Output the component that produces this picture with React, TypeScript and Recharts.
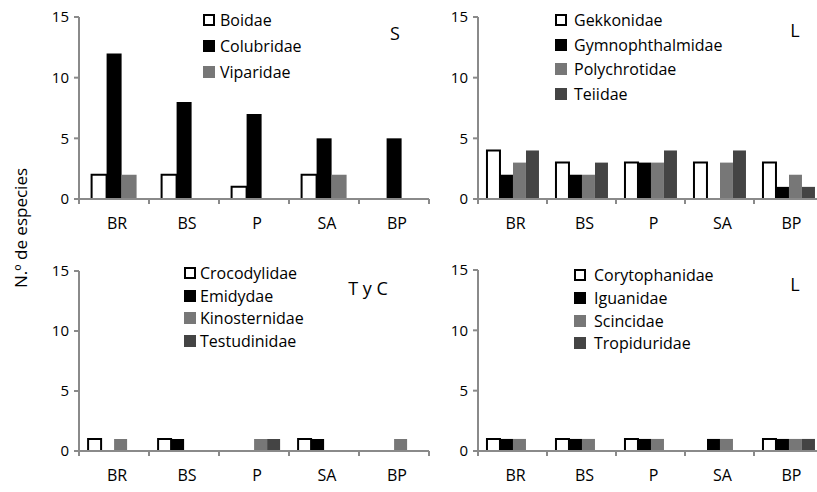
import React from 'react';
import { BarChart, Bar, XAxis, YAxis } from 'recharts';

// sites
const CATEGORIES = ['BR', 'BS', 'P', 'SA', 'BP'];
const Y_TICKS = [0, 5, 10, 15];

// S (serpientes)
const BOIDAE = [2, 2, 1, 2, 0];
const COLUBRIDAE = [12, 8, 7, 5, 5];
const VIPARIDAE = [2, 0, 0, 2, 0];

// L (lagartos, arriba)
const GEKKONIDAE = [4, 3, 3, 3, 3];
const GYMNOPHTHALMIDAE = [2, 2, 3, 0, 1];
const POLYCHROTIDAE = [3, 2, 3, 3, 2];
const TEIIDAE = [4, 3, 4, 4, 1];

// T y C
const CROCODYLIDAE = [1, 1, 0, 1, 0];
const EMIDYDAE = [0, 1, 0, 1, 0];
const KINOSTERNIDAE = [1, 0, 1, 0, 1];
const TESTUDINIDAE = [0, 0, 1, 0, 0];

// L (lagartos, abajo)
const CORYTOPHANIDAE = [1, 1, 1, 0, 1];
const IGUANIDAE = [1, 1, 1, 1, 1];
const SCINCIDAE = [1, 1, 1, 1, 1];
const TROPIDURIDAE = [0, 0, 0, 0, 1];

const FONT = '"Open Sans", sans-serif';
const AXIS = '#8a8a8a';

const STYLES = [
  { fill: '#ffffff', stroke: '#000000' },
  { fill: '#000000', stroke: 'none' },
  { fill: '#777777', stroke: 'none' },
  { fill: '#444444', stroke: 'none' },
];

type Series = { name: string; values: number[] };

function toRows(series: Series[]) {
  return CATEGORIES.map((c, i) => {
    const row: Record<string, any> = { cat: c };
    series.forEach((s) => (row[s.name] = s.values[i]));
    return row;
  });
}

function CatTick(props: any) {
  const { x, y, payload, index, step } = props;
  const last = index === CATEGORIES.length - 1;
  return (
    <g>
      <line x1={x - step / 2} x2={x - step / 2} y1={y} y2={y + 5} stroke={AXIS} strokeWidth={2} />
      {last && <line x1={x + step / 2} x2={x + step / 2} y1={y} y2={y + 5} stroke={AXIS} strokeWidth={2} />}
      <text x={x + 3} y={y + 24} textAnchor="middle" dominantBaseline="central" fontSize={16} fontFamily={FONT} fill="#000">
        {payload.value}
      </text>
    </g>
  );
}

interface PanelProps {
  series: Series[];
  left: number;
  top: number;
  yWidth: number;
  marginTop: number;
  marginRight: number;
  marginBottom: number;
  step: number;
  gap: string;
  legendLeft: number;
  legendTop: number;
  rowH: number;
  textGap: number;
  label: string;
  labelX: number;
  labelY: number;
}

function Panel(p: PanelProps) {
  const rows = toRows(p.series);
  return (
    <div style={{ position: 'absolute', left: p.left, top: p.top, width: 440, height: 240 }}>
      <BarChart
        width={440}
        height={240}
        data={rows}
        barGap={0}
        barCategoryGap={p.gap}
        margin={{ top: p.marginTop, right: p.marginRight, bottom: p.marginBottom, left: 0 }}
      >
        <XAxis
          dataKey="cat"
          height={30}
          axisLine={{ stroke: AXIS, strokeWidth: 2 }}
          tickLine={false}
          tickSize={0}
          tickMargin={0}
          interval={0}
          tick={(t: any) => <CatTick {...t} step={p.step} />}
        />
        <YAxis
          width={p.yWidth}
          domain={[0, 15]}
          ticks={Y_TICKS}
          interval={0}
          axisLine={{ stroke: AXIS, strokeWidth: 2 }}
          tickLine={{ stroke: AXIS, strokeWidth: 2 }}
          tickSize={5}
          tickMargin={5}
          tick={{ fill: '#000', fontSize: 15, fontFamily: FONT }}
        />
        {p.series.map((s, i) => (
          <Bar
            key={s.name}
            dataKey={s.name}
            fill={STYLES[i].fill}
            stroke={STYLES[i].stroke}
            strokeWidth={i === 0 ? 2 : 0}
            isAnimationActive={false}
          />
        ))}
      </BarChart>
      <div
        style={{
          position: 'absolute',
          left: p.legendLeft,
          top: p.legendTop,
          fontFamily: FONT,
          fontSize: 16,
          color: '#000',
          whiteSpace: 'nowrap',
        }}
      >
        {p.series.map((s, i) => (
          <div key={s.name} style={{ height: p.rowH, display: 'flex', alignItems: 'center' }}>
            <span
              style={{
                display: 'inline-block',
                boxSizing: 'border-box',
                width: 12,
                height: 12,
                background: STYLES[i].fill,
                border: i === 0 ? '2px solid #000' : 'none',
                marginRight: p.textGap,
              }}
            />
            <span>{s.name}</span>
          </div>
        ))}
      </div>
      <div
        style={{
          position: 'absolute',
          left: p.labelX,
          top: p.labelY,
          transform: 'translate(-50%, -50%)',
          fontFamily: FONT,
          fontSize: 18,
          whiteSpace: 'nowrap',
        }}
      >
        {p.label}
      </div>
    </div>
  );
}

const SNAKES: Series[] = [
  { name: 'Boidae', values: BOIDAE },
  { name: 'Colubridae', values: COLUBRIDAE },
  { name: 'Viparidae', values: VIPARIDAE },
];
const LIZARDS_A: Series[] = [
  { name: 'Gekkonidae', values: GEKKONIDAE },
  { name: 'Gymnophthalmidae', values: GYMNOPHTHALMIDAE },
  { name: 'Polychrotidae', values: POLYCHROTIDAE },
  { name: 'Teiidae', values: TEIIDAE },
];
const TURTLES: Series[] = [
  { name: 'Crocodylidae', values: CROCODYLIDAE },
  { name: 'Emidydae', values: EMIDYDAE },
  { name: 'Kinosternidae', values: KINOSTERNIDAE },
  { name: 'Testudinidae', values: TESTUDINIDAE },
];
const LIZARDS_B: Series[] = [
  { name: 'Corytophanidae', values: CORYTOPHANIDAE },
  { name: 'Iguanidae', values: IGUANIDAE },
  { name: 'Scincidae', values: SCINCIDAE },
  { name: 'Tropiduridae', values: TROPIDURIDAE },
];

export default function App() {
  return (
    <div
      style={{
        position: 'absolute',
        left: 0,
        top: 0,
        width: 817,
        height: 492,
        overflow: 'hidden',
        background: '#fff',
        fontFamily: FONT,
      }}
    >
      <Panel
        series={SNAKES}
        left={0} top={0} yWidth={79}
        marginTop={17} marginRight={11} marginBottom={11}
        step={70} gap="18%"
        legendLeft={203} legendTop={7} rowH={26} textGap={5}
        label="S" labelX={395} labelY={33}
      />
      <Panel
        series={LIZARDS_A}
        left={407} top={0} yWidth={71}
        marginTop={17} marginRight={24} marginBottom={11}
        step={69} gap="13%"
        legendLeft={148} legendTop={8} rowH={24.5} textGap={7}
        label="L" labelX={388} labelY={30}
      />
      <Panel
        series={TURTLES}
        left={0} top={246} yWidth={79}
        marginTop={25} marginRight={11} marginBottom={5}
        step={70} gap="13%"
        legendLeft={184} legendTop={16} rowH={22.5} textGap={4}
        label="T y C" labelX={368} labelY={42}
      />
      <Panel
        series={LIZARDS_B}
        left={407} top={246} yWidth={71}
        marginTop={24} marginRight={24} marginBottom={5}
        step={69} gap="13%"
        legendLeft={167} legendTop={18} rowH={22.7} textGap={8}
        label="L" labelX={388} labelY={38}
      />
      <div
        style={{
          position: 'absolute',
          left: 20,
          top: 228,
          transform: 'translate(-50%, -50%) rotate(-90deg)',
          fontFamily: FONT,
          fontSize: 17,
          whiteSpace: 'nowrap',
        }}
      >
        N.º de especies
      </div>
    </div>
  );
}
